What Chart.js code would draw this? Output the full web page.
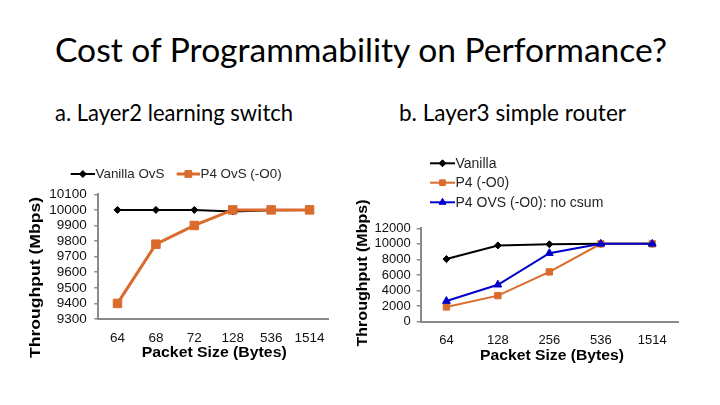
<!DOCTYPE html>
<html><head><meta charset="utf-8">
<script src="https://cdn.jsdelivr.net/npm/chart.js@4"></script>
<style>
html,body{margin:0;padding:0;background:#fff;width:720px;height:405px;overflow:hidden;}
.txt{position:absolute;font-family:Lato,'Open Sans',sans-serif;color:#000;white-space:nowrap;line-height:1;transform-origin:0 0;}
canvas{position:absolute;left:0;top:0;}
</style></head><body>
<div class="txt fit" style="left:55px;top:34px;font-size:32px" data-w="612">Cost of Programmability on Performance?</div>
<div class="txt fit" style="left:55px;top:101px;font-size:23px" data-w="238">a. Layer2 learning switch</div>
<div class="txt fit" style="left:399px;top:101px;font-size:23px" data-w="227">b. Layer3 simple router</div>
<canvas id="c1" width="720" height="405"></canvas>
<canvas id="c2" width="720" height="405"></canvas>
<script>
// ---- data ----
const l2Sizes = ['64', '68', '72', '128', '536', '1514'];
const l2Vanilla = [10000, 10000, 10000, 9990, 9998, 10000];
const l2P4 = [9400, 9780, 9900, 10000, 10000, 10000];
const l2YTicks = [9300, 9400, 9500, 9600, 9700, 9800, 9900, 10000, 10100];

const l3Sizes = ['64', '128', '256', '536', '1514'];
const l3Vanilla = [8050, 9800, 9950, 10000, 10000];
const l3P4 = [1900, 3350, 6400, 10000, 10000];
const l3P4NoCsum = [2650, 4750, 8800, 10000, 10000];
const l3YTicks = [0, 2000, 4000, 6000, 8000, 10000, 12000];

const l2Names = ['Vanilla OvS', 'P4 OvS (-O0)'];
const l3Names = ['Vanilla', 'P4 (-O0)', 'P4 OVS (-O0): no csum'];
const yTitle = 'Throughput (Mbps)';
const xTitle = 'Packet Size (Bytes)';

// fit slide texts
document.querySelectorAll('.fit').forEach(el => {
  const w = el.getBoundingClientRect().width;
  el.style.transform = 'scaleX(' + (parseFloat(el.dataset.w) / w) + ')';
});

const FONT = "'Liberation Sans', Arial, sans-serif";
const ORANGE = '#DA6B2C', BLUE = '#0000CC', BLACK = '#000000', AXIS = '#8a8a8a';

const decor = {
  id: 'decor',
  afterDraw(chart, args, opts) {
    const ctx = chart.ctx;
    (opts.titles || []).forEach(t => {
      ctx.save();
      ctx.font = t.font;
      ctx.fillStyle = '#000';
      ctx.textAlign = 'center';
      ctx.textBaseline = 'middle';
      ctx.translate(t.x, t.y);
      ctx.rotate(t.rot || 0);
      const mw = ctx.measureText(t.text).width;
      ctx.scale(t.len / mw, 1);
      ctx.fillText(t.text, 0, 0);
      ctx.restore();
    });
    (opts.legend || []).forEach(it => {
      const ds = chart.data.datasets[it.index];
      ctx.save();
      ctx.strokeStyle = ds.borderColor;
      ctx.lineWidth = it.lw;
      ctx.beginPath();
      ctx.moveTo(it.x1, it.y);
      ctx.lineTo(it.x2, it.y);
      ctx.stroke();
      ctx.fillStyle = ds.borderColor;
      ctx.lineWidth = 1;
      Chart.helpers.drawPoint(ctx, {pointStyle: ds.pointStyle, radius: it.r, borderWidth: 1, rotation: 0}, (it.x1 + it.x2) / 2, it.y);
      ctx.font = it.font;
      ctx.fillStyle = '#262626';
      ctx.textAlign = 'left';
      ctx.textBaseline = 'middle';
      ctx.fillText(ds.label, it.x2 + 0.5, it.y + 0.5);
      ctx.restore();
    });
  }
};

function ds(label, data, color, style, r, bw, order) {
  return {label, data, borderColor: color, backgroundColor: color, pointBackgroundColor: color,
    pointBorderColor: color, pointStyle: style, pointRadius: r, pointBorderWidth: 1,
    borderWidth: bw, tension: 0, clip: false, order};
}

function yScale(ticks, w, fs, pad) {
  return {
    min: ticks[0], max: ticks[ticks.length - 1],
    afterBuildTicks(s) { s.ticks = ticks.map(v => ({value: v})); },
    ticks: {autoSkip: false, color: '#111', font: {family: FONT, size: fs}, padding: pad,
      callback: v => String(v)},
    grid: {display: true, drawOnChartArea: false, drawTicks: true, tickLength: 4, color: AXIS, lineWidth: 1.5},
    border: {display: true, color: AXIS, width: 2},
    afterFit(s) { s.width = w; }
  };
}
function xScale(h, fs, pad) {
  return {
    offset: true,
    ticks: {color: '#111', font: {family: FONT, size: fs}, padding: pad, maxRotation: 0, autoSkip: false},
    grid: {display: false},
    border: {display: true, color: AXIS, width: 2},
    afterFit(s) { s.height = h; }
  };
}

new Chart(document.getElementById('c1'), {
  type: 'line',
  data: {
    labels: l2Sizes,
    datasets: [
      ds(l2Names[0], l2Vanilla, BLACK, 'rectRot', 3.5, 2, 1),
      ds(l2Names[1], l2P4, ORANGE, 'rect', 6, 3, 0)
    ]
  },
  options: {
    responsive: false, animation: false, events: [], devicePixelRatio: 1,
    layout: {padding: {left: 40, right: 391.2, top: 194.3, bottom: 0}},
    scales: {x: xScale(86, 13.5, 3), y: yScale(l2YTicks, 58.3, 13.5, 7.5)},
    plugins: {
      legend: {display: false}, tooltip: {enabled: false},
      decor: {
        titles: [
          {text: yTitle, x: 35.8, y: 277.5, rot: -Math.PI / 2, len: 161, font: 'bold 15px ' + FONT},
          {text: xTitle, x: 214.2, y: 353, rot: 0, len: 145, font: 'bold 14.5px ' + FONT}
        ],
        legend: [
          {index: 0, x1: 70.7, x2: 95, y: 174, r: 3.5, lw: 2, font: '13.4px ' + FONT},
          {index: 1, x1: 176.7, x2: 200, y: 174, r: 4.8, lw: 3, font: '13.4px ' + FONT}
        ]
      }
    }
  },
  plugins: [decor]
});

new Chart(document.getElementById('c2'), {
  type: 'line',
  data: {
    labels: l3Sizes,
    datasets: [
      ds(l3Names[0], l3Vanilla, BLACK, 'rectRot', 3.5, 2, 2),
      ds(l3Names[1], l3P4, ORANGE, 'rect', 4.5, 2, 1),
      ds(l3Names[2], l3P4NoCsum, BLUE, 'triangle', 4.5, 2, 0)
    ]
  },
  options: {
    responsive: false, animation: false, events: [], devicePixelRatio: 1,
    layout: {padding: {left: 370, right: 42, top: 228.3, bottom: 0}},
    scales: {x: xScale(83.3, 13, 3), y: yScale(l3YTicks, 50.7, 13, 6)},
    plugins: {
      legend: {display: false}, tooltip: {enabled: false},
      decor: {
        titles: [
          {text: yTitle, x: 363, y: 273, rot: -Math.PI / 2, len: 147, font: 'bold 15px ' + FONT},
          {text: xTitle, x: 552, y: 356, rot: 0, len: 144, font: 'bold 14.5px ' + FONT}
        ],
        legend: [
          {index: 0, x1: 430, x2: 455, y: 163.3, r: 3.5, lw: 2, font: '14px ' + FONT},
          {index: 1, x1: 430, x2: 455, y: 182.7, r: 4, lw: 2, font: '14px ' + FONT},
          {index: 2, x1: 430, x2: 455, y: 202.3, r: 4, lw: 2, font: '14px ' + FONT}
        ]
      }
    }
  },
  plugins: [decor]
});
</script>
</body></html>
